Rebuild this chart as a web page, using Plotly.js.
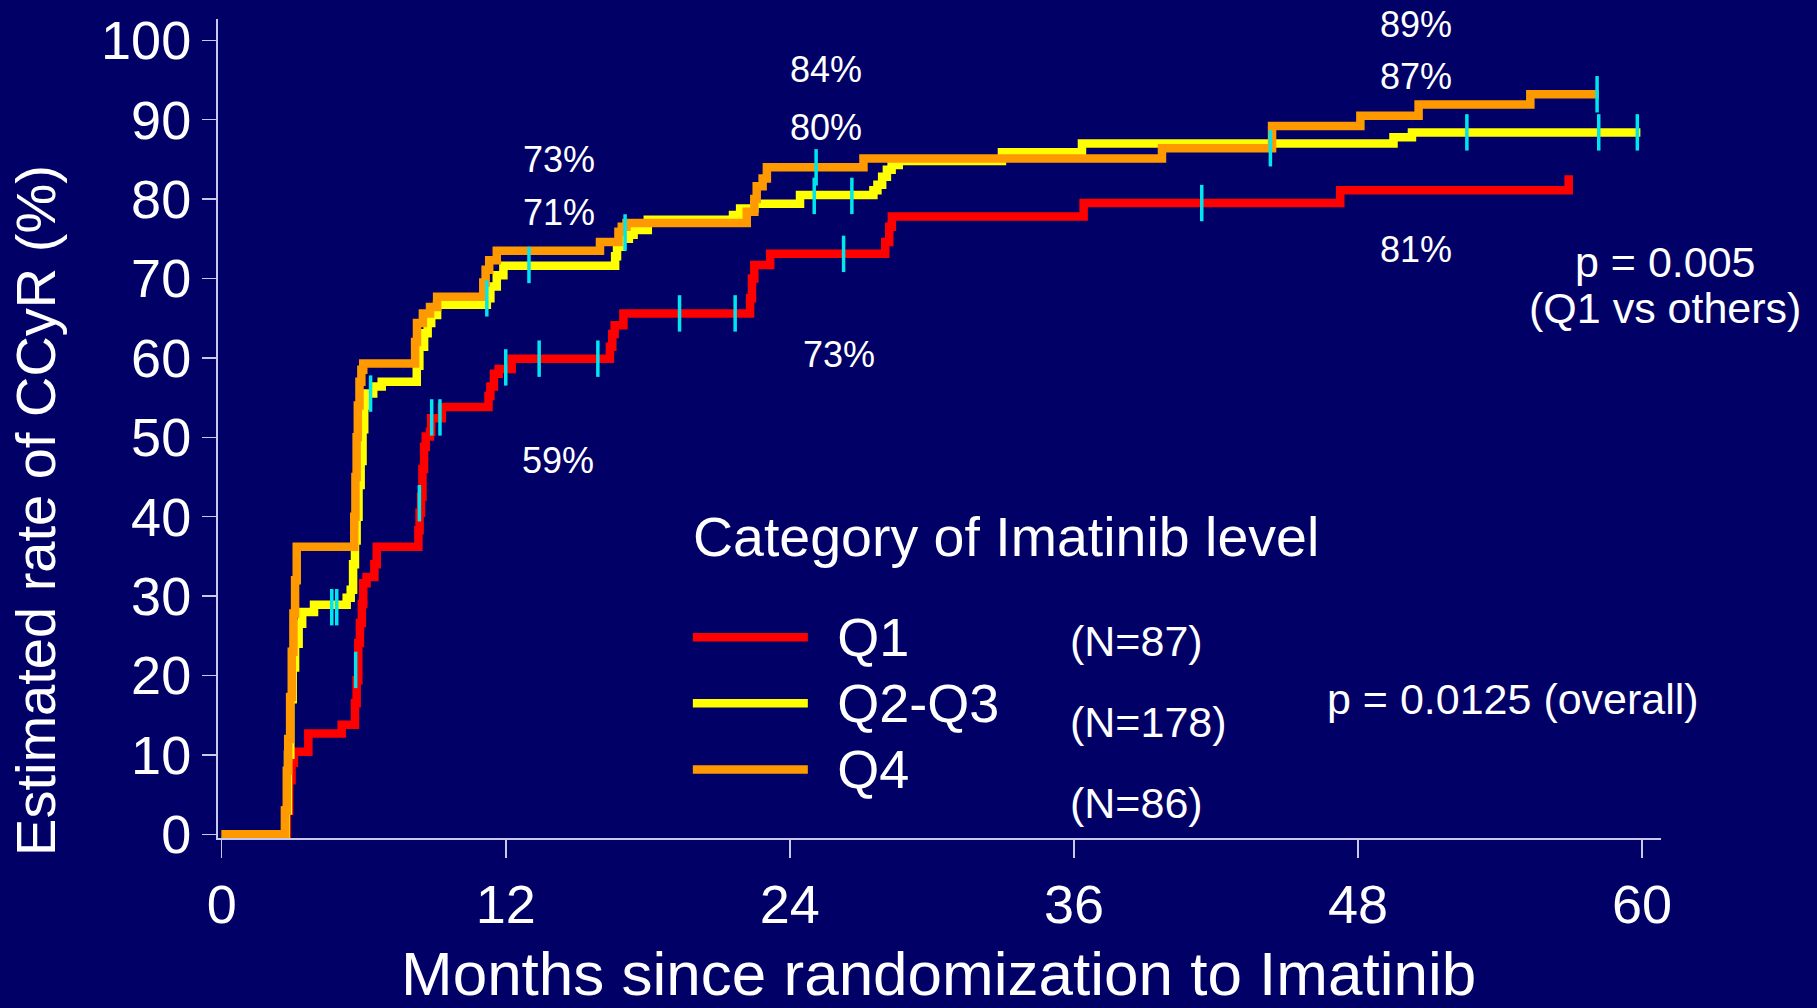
<!DOCTYPE html>
<html><head><meta charset="utf-8">
<script src="https://cdn.plot.ly/plotly-3.0.1.min.js"></script>
<style>html,body{margin:0;padding:0;background:#000066;}#chart{width:1817px;height:1008px;}</style>
</head><body><div id="chart"></div>
<script>
// Kaplan-Meier style cumulative CCyR curves (month at which value changes, value %)
const q1Months = [0, 2.75, 2.85, 2.95, 3.05, 3.66, 5.07, 5.63, 5.7, 5.77, 5.84, 5.92, 5.98, 6.12, 6.45, 6.55, 8.31, 8.36, 8.42, 8.48, 8.55, 8.62, 8.8, 8.85, 9.3, 11.27, 11.35, 11.5, 11.7, 12.25, 16.4, 16.5, 16.6, 16.97, 22.32, 22.4, 22.5, 23.17, 28.03, 28.2, 28.31, 36.41, 47.25, 56.9];
const q1Rate   = [0, 3, 6.8, 9, 10.4, 12.7, 13.8, 16.5, 19.4, 24.1, 26.6, 29, 31.6, 32.4, 34, 36.2, 38.3, 40.5, 42.5, 46, 48.8, 50.1, 50.7, 52.4, 53.8, 55.2, 56.4, 58.0, 58.6, 59.9, 61.4, 63, 64.1, 65.6, 67.5, 70, 71.7, 73.1, 74.6, 76.5, 77.8, 79.5, 81.1, 83.0];

const q23Months = [0, 2.7, 2.8, 2.9, 3.0, 3.1, 3.25, 3.4, 3.9, 5.28, 5.45, 5.55, 5.63, 5.7, 5.78, 5.87, 5.95, 6.02, 6.1, 6.4, 6.76, 8.24, 8.35, 8.55, 8.7, 8.85, 9.1, 11.2, 11.35, 11.62, 11.9, 16.62, 16.7, 16.9, 17.2, 17.4, 18.0, 21.6, 21.9, 22.5, 24.43, 27.53, 27.7, 27.9, 28.1, 28.3, 28.6, 32.96, 36.34, 49.5, 50.28, 59.93];
const q23Rate   = [0, 3, 10, 17, 21, 24, 26.5, 28.0, 28.9, 29.8, 30.8, 34, 37, 40, 44, 47, 51, 54, 55.5, 56.4, 57.0, 59, 61.4, 63.1, 64.4, 65.4, 66.7, 67.5, 69.0, 70.4, 71.6, 72.8, 74.0, 75.0, 75.5, 76.1, 77.4, 78.0, 78.8, 79.4, 80.5, 81.1, 81.8, 82.8, 83.7, 84.3, 84.8, 85.9, 87.0, 87.8, 88.4, 88.4];

const q4Months = [0, 2.67, 2.75, 2.81, 2.89, 2.96, 3.03, 3.1, 3.17, 5.6, 5.65, 5.7, 5.75, 5.82, 5.9, 5.98, 8.17, 8.25, 8.5, 8.8, 9.1, 11.05, 11.15, 11.3, 11.62, 15.98, 16.76, 16.9, 17.1, 22.18, 22.5, 22.6, 22.85, 23.03, 27.11, 39.72, 44.37, 48.1, 50.56, 55.28, 58.17];
const q4Rate   = [0, 3, 8, 12, 17.3, 23, 27.8, 32, 36.2, 40, 45, 50, 54, 57, 58.5, 59.3, 62, 64.4, 65.6, 66.4, 67.7, 69.5, 71.1, 72.3, 73.5, 74.6, 75.9, 76.5, 77.0, 78.4, 80, 81.6, 82.6, 84.0, 85.1, 86.4, 89.2, 90.5, 91.9, 93.2, 93.2];

// censored observations
const q1CensMonths  = [5.66, 8.35, 8.87, 9.22, 12.0, 13.41, 15.89, 19.34, 21.69, 26.27, 41.4];
const q1CensRate    = [20.7, 41.7, 52.5, 52.5, 58.8, 59.9, 59.9, 65.6, 65.6, 73.1, 79.5];
const q23CensMonths = [4.65, 4.86, 6.29, 11.2, 12.98, 17.04, 25.03, 26.62, 52.6, 58.17, 59.8];
const q23CensRate   = [28.6, 28.6, 55.5, 67.5, 71.7, 75.8, 80.4, 80.4, 88.4, 88.4, 88.4];
const q4CensMonths  = [25.11, 44.3, 58.1];
const q4CensRate    = [84.0, 86.4, 93.2];

const groupNames = ['Q1', 'Q2-Q3', 'Q4'];
const groupN = ['(N=87)', '(N=178)', '(N=86)'];
const xTicks = [0, 12, 24, 36, 48, 60];
const yTicks = [0, 10, 20, 30, 40, 50, 60, 70, 80, 90, 100];

// label texts
const pctLabels = ['89%', '87%', '84%', '80%', '73%', '71%', '81%', '73%', '59%'];

const FONT = 'Liberation Sans, Arial, Helvetica, sans-serif';
const BG = '#000066';
const AX = '#c8c8e8';
const CYAN = '#00e5ee';
const colors = ['#ff0000', '#ffff00', '#ff9900'];

function curve(x, y, i) {
  return {x: x, y: y, type: 'scatter', mode: 'lines',
    name: '<span style="font-size:44px">&nbsp;&nbsp;</span><span style="font-size:54px">' + groupNames[i] + '</span>',
    line: {color: colors[i], width: 8.5, shape: 'hv'}, hoverinfo: 'skip'};
}
function cens(x, y) {
  return {x: x, y: y, type: 'scatter', mode: 'markers', showlegend: false, hoverinfo: 'skip',
    marker: {symbol: 'line-ns', size: 26, color: CYAN, line: {color: CYAN, width: 3.5}}};
}

const data = [
  curve(q1Months, q1Rate, 0),
  curve(q23Months, q23Rate, 1),
  curve(q4Months, q4Rate, 2),
  cens(q1CensMonths, q1CensRate),
  cens(q23CensMonths, q23CensRate),
  cens(q4CensMonths, q4CensRate)
];

// annotation positions (data coordinates)
const pctPos = [[50.45, 102.0], [50.45, 95.42], [25.53, 96.36], [25.53, 88.96], [14.23, 84.96], [14.24, 78.25], [50.45, 73.63], [26.07, 60.43], [14.22, 47.02]];
const annotations = pctLabels.map((t, i) => ({
  text: t, x: pctPos[i][0], y: pctPos[i][1], xref: 'x', yref: 'y', showarrow: false,
  xanchor: 'center', yanchor: 'middle', font: {family: FONT, size: 36, color: '#ffffff'}
}));
const nPos = [[35.74, 24.3], [35.74, 14.1], [35.74, 3.9]];
groupN.forEach((t, i) => annotations.push({
  text: t, x: nPos[i][0], y: nPos[i][1], xref: 'x', yref: 'y', showarrow: false,
  xanchor: 'left', yanchor: 'middle', font: {family: FONT, size: 43, color: '#ffffff'}
}));
annotations.push(
  {text: 'p = 0.005', x: 1.003, y: 0.7027, xref: 'paper', yref: 'paper', showarrow: false, xanchor: 'center', yanchor: 'middle', font: {family: FONT, size: 43, color: '#ffffff'}},
  {text: '(Q1 vs others)', x: 1.003, y: 0.6468, xref: 'paper', yref: 'paper', showarrow: false, xanchor: 'center', yanchor: 'middle', font: {family: FONT, size: 43, color: '#ffffff'}},
  {text: 'p = 0.0125 (overall)', x: 46.6, y: 17.0, xref: 'x', yref: 'y', showarrow: false, xanchor: 'left', yanchor: 'middle', font: {family: FONT, size: 43, color: '#ffffff'}},
  {text: 'Category of Imatinib level', x: 19.81, y: 37.38, xref: 'x', yref: 'y', showarrow: false, xanchor: 'left', yanchor: 'middle', font: {family: FONT, size: 55.5, color: '#ffffff'}},
  {text: 'Months since randomization to Imatinib', x: 0.4995, y: -0.1650, xref: 'paper', yref: 'paper', showarrow: false, xanchor: 'center', yanchor: 'middle', font: {family: FONT, size: 62, color: '#ffffff'}},
  {text: 'Estimated rate of CCyR (%)', x: -0.1262, y: 0.4005, xref: 'paper', yref: 'paper', showarrow: false, textangle: -90, xanchor: 'center', yanchor: 'middle', font: {family: FONT, size: 56, color: '#ffffff'}}
);

const layout = {
  width: 1817, height: 1008,
  paper_bgcolor: BG, plot_bgcolor: BG,
  margin: {l: 218, r: 156, t: 19, b: 170, pad: 0},
  font: {family: FONT, color: '#ffffff'},
  showlegend: true,
  legend: {x: 0.3256, y: 0.2915, xanchor: 'left', yanchor: 'top', bgcolor: 'rgba(0,0,0,0)',
    font: {family: FONT, size: 48.5, color: '#ffffff'}, itemwidth: 115, tracegroupgap: 0},
  xaxis: {range: [-0.156, 60.80], showgrid: false, zeroline: false, showline: true, linecolor: AX, linewidth: 2,
    tickmode: 'array', tickvals: xTicks, ticks: 'outside', ticklen: 18, tickwidth: 1.5, tickcolor: AX,
    tickfont: {family: FONT, size: 54, color: '#ffffff'}, fixedrange: true},
  yaxis: {range: [-0.47, 102.68], showgrid: false, zeroline: false, showline: true, linecolor: AX, linewidth: 2,
    tickmode: 'array', tickvals: yTicks, ticks: 'outside', ticklen: 14, tickwidth: 1.5, tickcolor: AX,
    tickfont: {family: FONT, size: 54, color: '#ffffff'}, fixedrange: true},
  annotations: annotations
};

Plotly.newPlot('chart', data, layout, {displayModeBar: false, staticPlot: true});
</script>
</body></html>
